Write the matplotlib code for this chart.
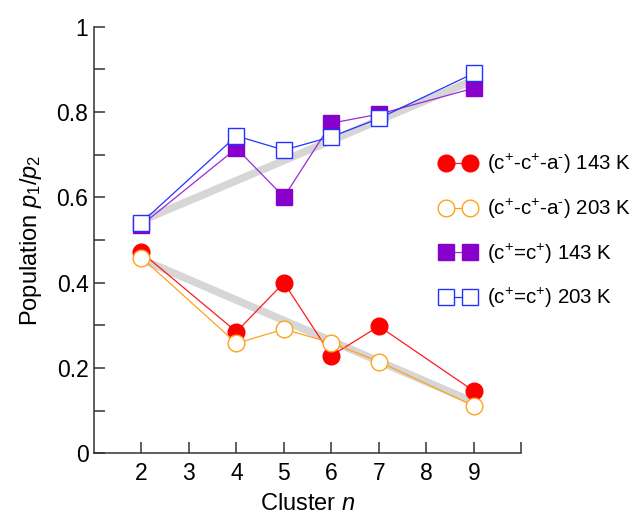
import matplotlib.pyplot as plt
from matplotlib.ticker import MultipleLocator, FuncFormatter

plt.rcParams['font.family'] = ['Liberation Sans', 'DejaVu Sans']
plt.rcParams['mathtext.fontset'] = 'custom'
plt.rcParams['mathtext.rm'] = 'Liberation Sans'
plt.rcParams['mathtext.it'] = 'Liberation Sans:italic'

# Cluster sizes and populations
n = [2, 4, 5, 6, 7, 9]
chain_143 = [0.471, 0.285, 0.400, 0.229, 0.298, 0.146]
chain_203 = [0.459, 0.258, 0.291, 0.259, 0.215, 0.111]
pair_143 = [0.535, 0.715, 0.601, 0.774, 0.795, 0.856]
pair_203 = [0.541, 0.744, 0.711, 0.742, 0.785, 0.891]

# grey guide bands
band_n = [2, 9]
band_upper = [0.545, 0.875]
band_lower = [0.455, 0.120]

fig = plt.figure(figsize=(6.42, 5.14), dpi=100)
ax = fig.add_axes([0.1464, 0.118, 0.6657, 0.83])

ax.plot(band_n, band_upper, color='#d6d6d6', lw=5.5, solid_capstyle='butt', zorder=1)
ax.plot(band_n, band_lower, color='#d6d6d6', lw=5.5, solid_capstyle='butt', zorder=1)

ax.plot(n, chain_143, color='#ff1a1a', lw=0.9, marker='o', ms=12,
        mfc='#ff0000', mec='#ff0000', label=r'(c$^{+}$-c$^{+}$-a$^{\text{-}}$) 143 K', zorder=3)
ax.plot(n, chain_203, color='#ffa21a', lw=0.9, marker='o', ms=12,
        mfc='white', mec='#ffa21a', mew=1.0, label=r'(c$^{+}$-c$^{+}$-a$^{\text{-}}$) 203 K', zorder=4)
ax.plot(n, pair_143, color='#9a2ad8', lw=0.9, marker='s', ms=11,
        mfc='#8800cc', mec='#8800cc', label='(c$^{+}$=c$^{+}$) 143 K', zorder=5)
ax.plot(n, pair_203, color='#2233ff', lw=0.9, marker='s', ms=11,
        mfc='white', mec='#2233ff', mew=1.0, label='(c$^{+}$=c$^{+}$) 203 K', zorder=6)

ax.set_xlim(1, 10)
ax.set_ylim(0, 1)
ax.set_xticks(range(2, 11))
ax.set_xticklabels([str(i) for i in range(2, 10)] + [''])
ax.yaxis.set_major_locator(MultipleLocator(0.2))
ax.yaxis.set_minor_locator(MultipleLocator(0.1))
ax.yaxis.set_major_formatter(FuncFormatter(lambda v, p: '%g' % round(v, 1)))

for s in ['top', 'right']:
    ax.spines[s].set_visible(False)
for s in ['left', 'bottom']:
    ax.spines[s].set_color('#333333')
    ax.spines[s].set_linewidth(1.1)

ax.tick_params(axis='both', which='both', direction='in', length=8, width=1.1,
               color='#333333', labelsize=16.5)
ax.tick_params(axis='x', pad=6)
ax.tick_params(axis='y', pad=4)

ax.set_xlabel('Cluster $n$', fontsize=17, labelpad=6)
ax.set_ylabel('Population $p_1/p_2$', fontsize=17, labelpad=9)

fig.legend(loc='upper left', bbox_to_anchor=(0.672, 0.72), frameon=False,
           numpoints=2, handlelength=1.8, handletextpad=0.5, labelspacing=1.0,
           fontsize=14.8, borderaxespad=0)

fig.savefig('out.png', dpi=100)
